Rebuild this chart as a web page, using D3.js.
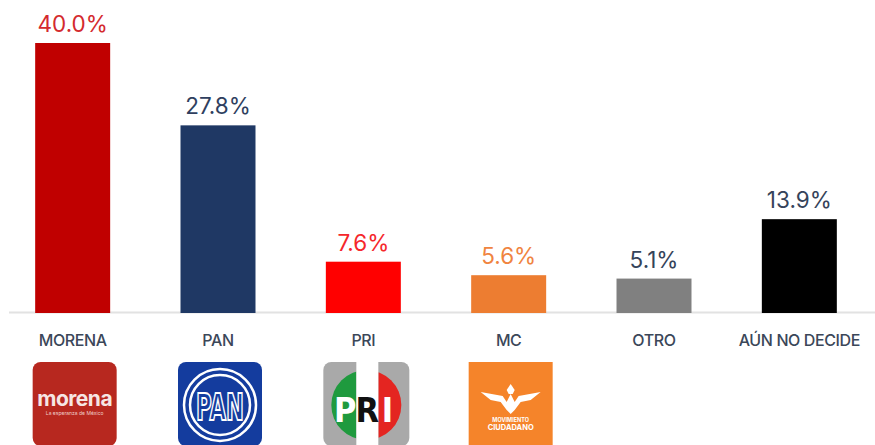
<!DOCTYPE html>
<html>
<head>
<meta charset="utf-8">
<script src="https://cdn.jsdelivr.net/npm/d3@7"></script>
<style>
	html, body { margin: 0; padding: 0; background: #fff; }
	svg { display: block; }
</style>
</head>
<body>
<div id="chart"></div>
<script>
// poll results, percentages
const categories = ['MORENA', 'PAN', 'PRI', 'MC', 'OTRO', 'AÚN NO DECIDE'];
const values = [40.0, 27.8, 7.6, 5.6, 5.1, 13.9];
const barColors = ['#c00000', '#1f3864', '#ff0000', '#ed7d31', '#808080', '#000000'];
const labelColors = ['#d42a2e', '#2f3f5f', '#f5272b', '#f0843f', '#35435a', '#35435a'];
const logoParties = ['MORENA', 'PAN', 'PRI', 'MC'];

const W = 875, H = 445,
	baseY = 313;

const svg = d3.select('#chart').append('svg')
	.attr('width', W).attr('height', H)
	.style('font-family', 'Inter, "Open Sans", sans-serif');

const x = d3.scaleBand()
	.domain(categories)
	.range([0, 872])
	.paddingInner(0.484)
	.paddingOuter(0.242);

const y = d3.scaleLinear()
	.domain([0, 40])
	.range([baseY, 43]);

// baseline
svg.append('line')
	.attr('x1', 9).attr('x2', W)
	.attr('y1', baseY - 0.5).attr('y2', baseY - 0.5)
	.attr('stroke', '#e2e2e2')
	.attr('stroke-width', 2);

const data = categories.map((c, i) => ({cat: c, val: values[i], i: i}));

svg.selectAll('rect.bar')
	.data(data)
	.join('rect')
	.attr('class', 'bar')
	.attr('x', d => x(d.cat))
	.attr('width', x.bandwidth())
	.attr('y', d => y(d.val))
	.attr('height', d => y(0) - y(d.val))
	.attr('fill', d => barColors[d.i]);

svg.selectAll('text.val')
	.data(data)
	.join('text')
	.attr('class', 'val')
	.attr('x', d => x(d.cat) + x.bandwidth() / 2)
	.attr('y', d => y(d.val) - 11)
	.attr('text-anchor', 'middle')
	.attr('font-size', 22.5)
	.attr('fill', d => labelColors[d.i])
	.text(d => d.val.toFixed(1) + '%');

svg.selectAll('text.cat')
	.data(data)
	.join('text')
	.attr('class', 'cat')
	.attr('x', d => x(d.cat) + x.bandwidth() / 2)
	.attr('y', 346)
	.attr('text-anchor', 'middle')
	.attr('font-size', 16)
	.attr('font-weight', 500)
	.attr('letter-spacing', -0.4)
	.attr('fill', '#3b4759')
	.text(d => d.cat);

// party logos
const logoSize = 84, logoTop = 362;

function drawMorena(g){
	g.append('rect').attr('width', logoSize).attr('height', logoSize)
		.attr('rx', 8).attr('fill', '#b7281f');
	g.append('text').attr('x', 42).attr('y', 44)
		.attr('text-anchor', 'middle').attr('font-size', 21).attr('font-weight', 700)
		.attr('fill', '#f6e6e4').attr('letter-spacing', -0.5)
		.text('morena');
	g.append('text').attr('x', 42).attr('y', 53)
		.attr('text-anchor', 'middle').attr('font-size', 5)
		.attr('fill', '#f0d0cc')
		.text('La esperanza de México');
}

function drawPan(g){
	g.append('rect').attr('width', logoSize).attr('height', logoSize)
		.attr('rx', 8).attr('fill', '#143c9e');
	g.append('circle').attr('cx', 42).attr('cy', 43).attr('r', 36)
		.attr('fill', 'none').attr('stroke', '#fff').attr('stroke-width', 2.5);
	g.append('circle').attr('cx', 42).attr('cy', 43).attr('r', 30)
		.attr('fill', 'none').attr('stroke', '#fff').attr('stroke-width', 2.5);
	g.append('text').attr('x', 42).attr('y', 58)
		.attr('text-anchor', 'middle').attr('font-size', 38).attr('font-weight', 700)
		.attr('font-family', '"Liberation Sans Narrow", "DejaVu Sans Condensed", sans-serif')
		.attr('fill', '#143c9e').attr('stroke', '#fff').attr('stroke-width', 2)
		.attr('textLength', 48).attr('lengthAdjust', 'spacingAndGlyphs')
		.text('PAN');
}

function drawPri(g){
	const id = 'priclip';
	g.append('clipPath').attr('id', id)
		.append('circle').attr('cx', 43).attr('cy', 43).attr('r', 35);
	g.append('rect').attr('width', logoSize + 2).attr('height', logoSize)
		.attr('rx', 8).attr('fill', '#a9a9a9');
	const c = g.append('g').attr('clip-path', 'url(#' + id + ')');
	c.append('rect').attr('x', 6).attr('y', 0).attr('width', 27).attr('height', 86).attr('fill', '#1f9a3e');
	c.append('rect').attr('x', 55).attr('y', 0).attr('width', 30).attr('height', 86).attr('fill', '#e42521');
	g.append('rect').attr('x', 33).attr('y', 0).attr('width', 22).attr('height', 86).attr('fill', '#fff');
	const letters = [['P', 22, '#fff'], ['R', 44, '#111'], ['I', 64, '#fff']];
	letters.forEach(l => {
		g.append('text').attr('x', l[1]).attr('y', 60)
			.attr('text-anchor', 'middle').attr('font-size', 34).attr('font-weight', 700)
			.attr('font-family', '"Liberation Sans Narrow", "DejaVu Sans Condensed", sans-serif')
			.attr('fill', l[2]).text(l[0]);
	});
}

function drawMc(g){
	g.append('rect').attr('width', logoSize).attr('height', logoSize)
		.attr('fill', '#f5842a');
	// stylised eagle
	g.append('path')
		.attr('d', 'M12,30 L34,34 L38,40 L42,32 L46,40 L50,34 L72,30 L62,38 L52,40 L46,48 L42,52 L38,48 L32,40 L22,38 Z')
		.attr('fill', '#fff');
	g.append('path')
		.attr('d', 'M38,28 L42,22 L46,28 L44,32 L40,32 Z')
		.attr('fill', '#fff');
	g.append('text').attr('x', 42).attr('y', 60)
		.attr('text-anchor', 'middle').attr('font-size', 5.5).attr('font-weight', 700)
		.attr('fill', '#fff').text('MOVIMIENTO');
	g.append('text').attr('x', 42).attr('y', 68)
		.attr('text-anchor', 'middle').attr('font-size', 7.5).attr('font-weight', 700)
		.attr('fill', '#fff').text('CIUDADANO');
}

const logoFns = {MORENA: drawMorena, PAN: drawPan, PRI: drawPri, MC: drawMc};

logoParties.forEach(p => {
	const cx = x(p) + x.bandwidth() / 2 + 2;
	const g = svg.append('g')
		.attr('transform', 'translate(' + (cx - logoSize / 2) + ',' + logoTop + ')');
	logoFns[p](g);
});
</script>
</body>
</html>
